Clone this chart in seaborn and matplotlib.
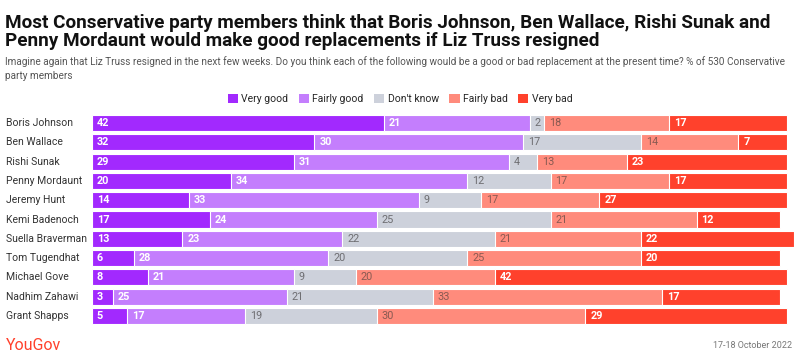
import numpy as np
import pandas as pd
import seaborn as sns
import matplotlib.pyplot as plt
import matplotlib.transforms as mtransforms
from matplotlib.patches import Patch

names = ["Boris Johnson", "Ben Wallace", "Rishi Sunak", "Penny Mordaunt", "Jeremy Hunt",
         "Kemi Badenoch", "Suella Braverman", "Tom Tugendhat", "Michael Gove",
         "Nadhim Zahawi", "Grant Shapps"]
very_good = [42, 32, 29, 20, 14, 17, 13, 6, 8, 3, 5]
fairly_good = [21, 30, 31, 34, 33, 24, 23, 28, 21, 25, 17]
dont_know = [2, 17, 4, 12, 9, 25, 22, 20, 9, 21, 19]
fairly_bad = [18, 14, 13, 17, 17, 21, 21, 25, 20, 33, 30]
very_bad = [17, 7, 23, 17, 27, 12, 22, 20, 42, 17, 29]

categories = ["Very good", "Fairly good", "Don't know", "Fairly bad", "Very bad"]
colors = ["#a229fe", "#c47efd", "#cdd1db", "#ff8b7c", "#ff412c"]
label_colors = ["white", "white", "#6e6e72", "#8a5a52", "white"]

df = pd.DataFrame({"name": names, "Very good": very_good, "Fairly good": fairly_good,
                   "Don't know": dont_know, "Fairly bad": fairly_bad, "Very bad": very_bad})
cum = df[categories].cumsum(axis=1)

sns.set_theme(style="white")
plt.rcParams['font.family'] = ['Roboto', 'DejaVu Sans']

fig = plt.figure(figsize=(8, 3.59), dpi=100)
ax = fig.add_axes([0.115, 0.093, 0.8775, 0.591])

# stacked bars by overlaying cumulative totals, widest first
for cat, col in reversed(list(zip(categories, colors))):
    sns.barplot(x=cum[cat], y=df["name"], color=col, orient="h", width=0.84,
                edgecolor="white", linewidth=0.8, ax=ax, saturation=1)

for i in range(len(names)):
    start = 0
    for cat, lc in zip(categories, label_colors):
        v = df[cat].iloc[i]
        ax.text(start + 0.7, i, str(v), va="center", ha="left", fontsize=7.8,
                color=lc, fontweight="bold" if lc == "white" else "normal")
        start += v

ax.set_xlim(0, 101)
ax.set_ylim(len(names) - 0.5, -0.5)
ax.set_xlabel("")
ax.set_ylabel("")
ax.set_xticks([])
ax.set_yticks(range(len(names)))
ax.set_yticklabels([])
ax.tick_params(axis="y", length=0)
for s in ax.spines.values():
    s.set_visible(False)

# row labels at the left edge of the figure
trans = mtransforms.blended_transform_factory(fig.transFigure, ax.transData)
for i, n in enumerate(names):
    ax.text(0.008, i, n, transform=trans, va="center", ha="left", fontsize=7.5,
            color="#333333", clip_on=False)

fig.text(0.006, 0.962, "Most Conservative party members think that Boris Johnson, Ben Wallace, Rishi Sunak and\n"
         "Penny Mordaunt would make good replacements if Liz Truss resigned",
         fontsize=13.6, fontweight="bold", va="top", ha="left", color="#111111", linespacing=1.0)
fig.text(0.006, 0.843, "Imagine again that Liz Truss resigned in the next few weeks. Do you think each of the following "
         "would be a good or bad replacement at the present time? % of 530 Conservative\nparty members",
         fontsize=7.2, va="top", ha="left", color="#555555", linespacing=1.45)

handles = [Patch(facecolor=c, edgecolor="none", label=l) for l, c in zip(categories, colors)]
fig.legend(handles=handles, loc="center", bbox_to_anchor=(0.5, 0.724), ncol=5, frameon=False,
           fontsize=7.5, handlelength=1.0, handleheight=1.0, handletextpad=0.3, columnspacing=1.0)

fig.text(0.008, 0.038, "YouGov", fontsize=11.5, color="#ff412c", va="center", ha="left")
fig.text(0.99, 0.038, "17-18 October 2022", fontsize=6.5, color="#777777", va="center", ha="right")

fig.savefig("out.png", dpi=100)
